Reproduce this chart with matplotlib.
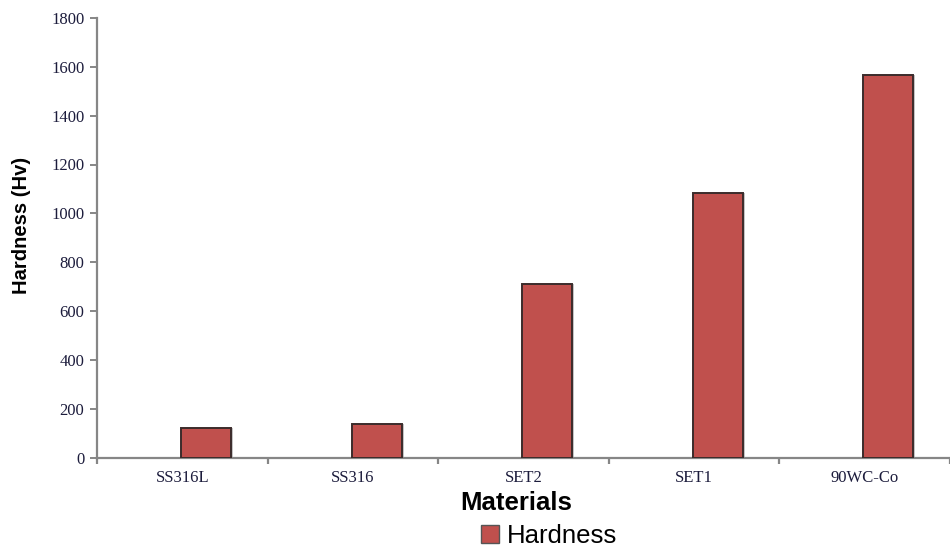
import matplotlib
matplotlib.use("Agg")
import matplotlib.pyplot as plt
from matplotlib.patches import Patch
import numpy as np

materials = ["SS316L", "SS316", "SET2", "SET1", "90WC-Co"]
hardness = [120, 138, 710, 1085, 1565]
y_ticks = [0, 200, 400, 600, 800, 1000, 1200, 1400, 1600, 1800]
series_name = "Hardness"

W, H = 950, 549
fig = plt.figure(figsize=(W / 100, H / 100), dpi=100)
ax = fig.add_axes([97 / W, (H - 457.5) / H, (W - 97) / W, (457.5 - 18) / H])

bar_color = "#C0504D"
edge_color = "#3b2b2b"
axis_color = "#868686"
tick_color = "#1c1c3c"

x = np.arange(len(materials))
bw = 0.293
off = -0.008
# subtle shadow
ax.bar(x + off + 0.012, hardness, width=bw, align="edge", bottom=0,
       color="#c4c4c4", edgecolor="none", zorder=2)
ax.bar(x + off, hardness, width=bw, align="edge", color=bar_color,
       edgecolor=edge_color, linewidth=1.4, zorder=3)

ax.set_xlim(-0.5, 4.436)
ax.set_ylim(0, 1800)

for s in ["top", "right"]:
    ax.spines[s].set_visible(False)
for s in ["left", "bottom"]:
    ax.spines[s].set_color(axis_color)
    ax.spines[s].set_linewidth(1.6)

ax.set_yticks(y_ticks)
ax.set_yticklabels([str(v) for v in y_ticks], family="Liberation Serif",
                   fontsize=12, color=tick_color)
ax.tick_params(axis="y", length=5, width=1.4, color=axis_color, pad=4)

ax.set_xticks(np.arange(len(materials) + 1) - 0.5)
ax.set_xticklabels([])
ax.tick_params(axis="x", which="major", length=4, width=1.6,
               color=axis_color, direction="out")
ax.set_xticks(x, minor=True)
ax.set_xticklabels(materials, minor=True, family="Liberation Serif",
                   fontsize=12, color=tick_color)
ax.tick_params(axis="x", which="minor", length=0, pad=9)

fig.text(22 / W, 1 - 225 / H, "Hardness (Hv)", rotation=90,
         ha="center", va="center", fontsize=14.5, fontweight="bold",
         family="Liberation Sans", color="black")
fig.text(516 / W, 1 - 503 / H, "Materials", ha="center", va="center",
         fontsize=18.5, fontweight="bold", family="Liberation Sans",
         color="black")

handle = Patch(facecolor=bar_color, edgecolor="#555555", linewidth=1.0)
fig.legend([handle], [series_name], loc="center",
           bbox_to_anchor=(549 / W, 1 - 536 / H), frameon=False,
           prop={"family": "Liberation Sans", "size": 18.5},
           handlelength=0.7, handleheight=0.7, handletextpad=0.3,
           borderpad=0)

fig.savefig("out.png", dpi=100)
